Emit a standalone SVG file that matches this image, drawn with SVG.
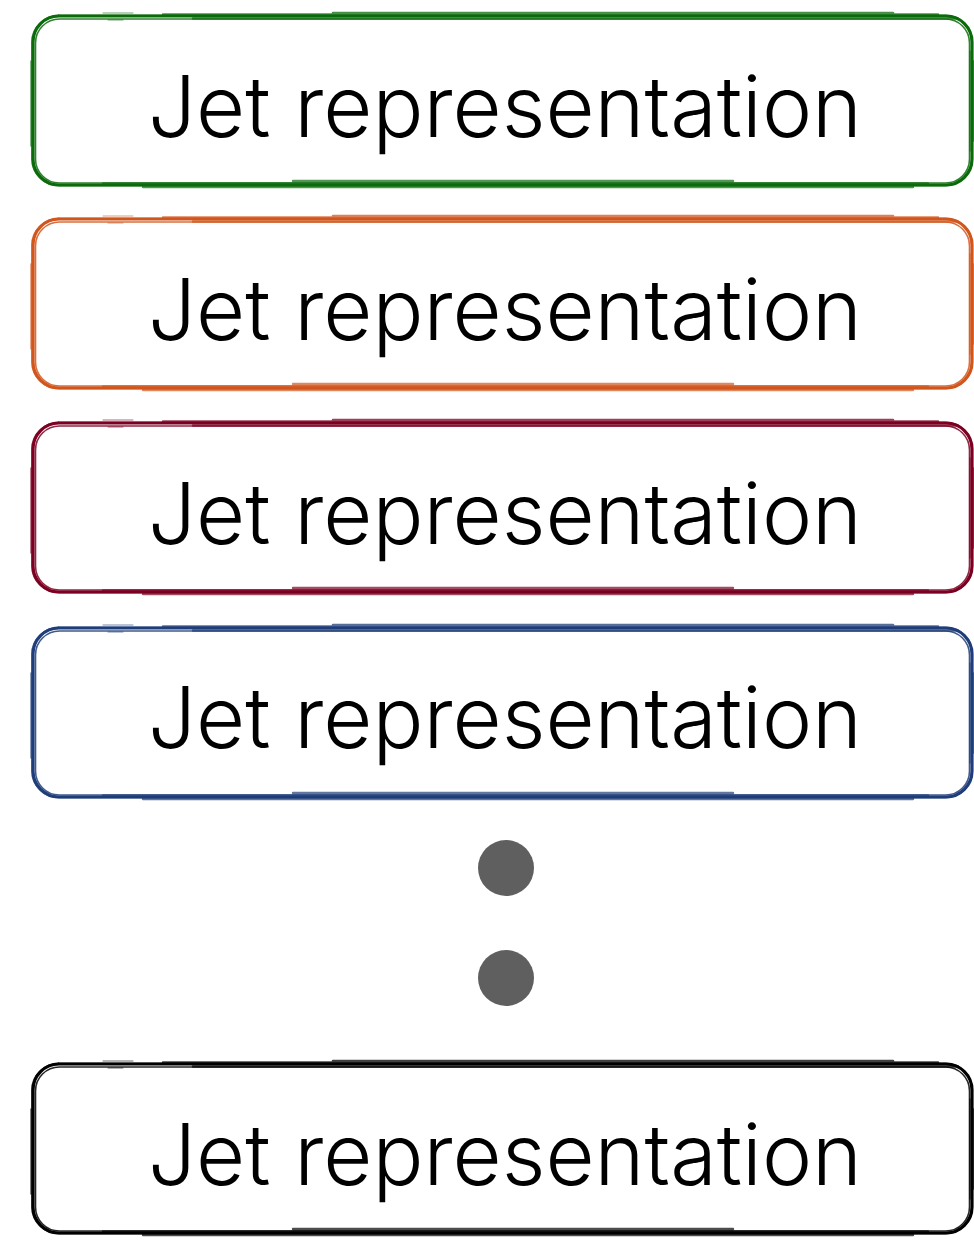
<svg xmlns="http://www.w3.org/2000/svg" xmlns:xlink="http://www.w3.org/1999/xlink" width="974" height="1240" viewBox="0 0 974 1240">
  <style>
    .label { font-family: Inter, "Noto Sans", "Liberation Sans", sans-serif; font-size: 85px; font-weight: 340; fill: #000; }
    .dot { fill: #5f5f5f; }
  </style>
  <defs>
    <!-- hand-drawn rounded frame: several slightly offset strokes in the current colour -->
    <g id="frame" fill="none" stroke="currentColor" stroke-linecap="round">
      <rect x="0" y="0" width="939" height="169" rx="26" stroke-width="3.2"/>
      <rect x="2.5" y="3" width="934" height="164" rx="24" stroke-width="1.6" stroke-opacity="0.85"/>
      <rect x="-1.5" y="-1" width="941" height="171" rx="27" stroke-width="1" stroke-opacity="0.6"/>
      <path d="M130 -1.5 H905 M160 2.5 H925 M300 -3 H860" stroke-width="2.6" stroke-opacity="0.75"/>
      <path d="M70 167.5 H895 M110 171 H880 M260 165 H700" stroke-width="2.4" stroke-opacity="0.7"/>
      <path d="M-2 45 V130 M937 35 V135 M940.5 45 V125" stroke-width="1.4" stroke-opacity="0.7"/>
      <path d="M70 -3 H100 M75 4 H90" stroke-width="1" stroke-opacity="0.6"/>
    </g>
  </defs>

  <g id="node1" style="color:#0b6b0b">
    <use xlink:href="#frame" transform="translate(33,16)"/>
    <text class="label" x="148" y="137" textLength="714" lengthAdjust="spacingAndGlyphs">Jet representation</text>
  </g>
  <g id="node2" style="color:#d1561d">
    <use xlink:href="#frame" transform="translate(33,219)"/>
    <text class="label" x="148" y="340" textLength="714" lengthAdjust="spacingAndGlyphs">Jet representation</text>
  </g>
  <g id="node3" style="color:#7b0022">
    <use xlink:href="#frame" transform="translate(33,423)"/>
    <text class="label" x="148" y="544" textLength="714" lengthAdjust="spacingAndGlyphs">Jet representation</text>
  </g>
  <g id="node4" style="color:#1f3d78">
    <use xlink:href="#frame" transform="translate(33,628)"/>
    <text class="label" x="148" y="748" textLength="714" lengthAdjust="spacingAndGlyphs">Jet representation</text>
  </g>
  <g id="ellipsis">
    <circle class="dot" cx="506" cy="868" r="28"/>
    <circle class="dot" cx="506" cy="978" r="28"/>
  </g>
  <g id="node5" style="color:#000">
    <use xlink:href="#frame" transform="translate(33,1064)"/>
    <text class="label" x="148" y="1185" textLength="714" lengthAdjust="spacingAndGlyphs">Jet representation</text>
  </g>
  <g id="connectors"/>
</svg>
